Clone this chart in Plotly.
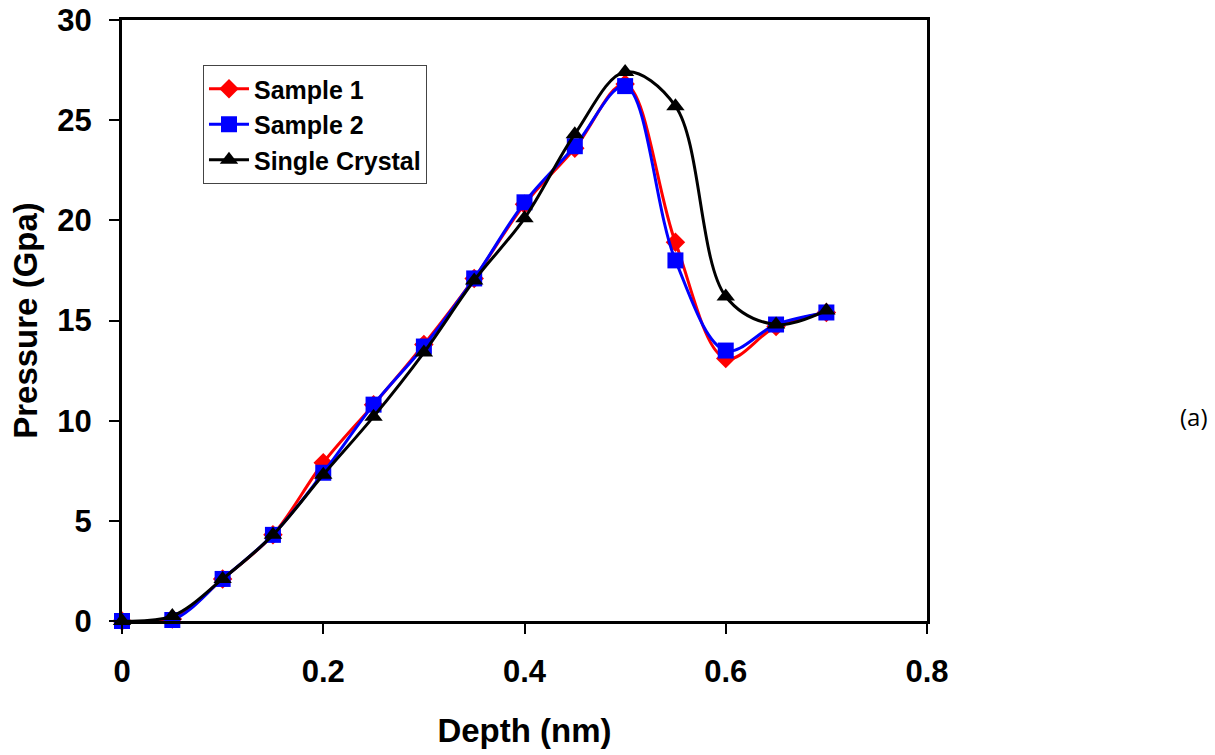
import plotly.graph_objects as go

depth = [0, 0.05, 0.1, 0.15, 0.2, 0.25, 0.3, 0.35, 0.4, 0.45, 0.5, 0.55, 0.6, 0.65, 0.7]
sample1 = [0, 0.1, 2.1, 4.3, 7.9, 10.8, 13.8, 17.1, 20.8, 23.6, 26.8, 18.9, 13.1, 14.7, 15.4]
sample2 = [0, 0.05, 2.1, 4.3, 7.4, 10.8, 13.7, 17.1, 20.9, 23.7, 26.7, 18.0, 13.5, 14.8, 15.4]
single = [0, 0.25, 2.1, 4.3, 7.3, 10.2, 13.4, 17.0, 20.1, 24.3, 27.4, 25.7, 16.2, 14.8, 15.5]

FONT = "Liberation Sans, Arial, sans-serif"

fig = go.Figure()
fig.add_trace(go.Scatter(x=depth, y=sample1, name="Sample 1", mode="lines+markers",
                         line=dict(color="#ff0000", width=3, shape="spline", smoothing=1.0),
                         marker=dict(symbol="diamond", size=15, color="#ff0000"),
                         cliponaxis=False))
fig.add_trace(go.Scatter(x=depth, y=sample2, name="Sample 2", mode="lines+markers",
                         line=dict(color="#0000ff", width=3, shape="spline", smoothing=1.0),
                         marker=dict(symbol="square", size=16, color="#0000ff"),
                         cliponaxis=False))
fig.add_trace(go.Scatter(x=depth, y=single, name="Single Crystal", mode="lines+markers",
                         line=dict(color="#000000", width=3, shape="spline", smoothing=1.0),
                         marker=dict(symbol="triangle-up", size=16, color="#000000"),
                         cliponaxis=False))

fig.update_layout(
    width=1215, height=755,
    margin=dict(l=122, r=288, t=20, b=134),
    paper_bgcolor="white", plot_bgcolor="white",
    font=dict(family=FONT, color="black"),
    showlegend=True,
    legend=dict(x=0.1006, y=(621 - 65) / 601, xanchor="left", yanchor="top",
                bordercolor="#444", borderwidth=1, bgcolor="white",
                font=dict(family=FONT, size=25, weight="bold", color="black"),
                itemwidth=40, tracegroupgap=0),
    xaxis=dict(range=[0, 0.8], tickvals=[0, 0.2, 0.4, 0.6, 0.8],
               ticktext=["0", "0.2", "0.4", "0.6", "0.8"], automargin=False,
               showgrid=False, zeroline=False, showline=True, linecolor="black",
               linewidth=3, mirror=True, ticks="outside", ticklen=10, tickwidth=2,
               tickcolor="black", ticklabelstandoff=11,
               tickfont=dict(family=FONT, size=31, weight="bold"),
               title=dict(text="Depth (nm)", font=dict(family=FONT, size=33, weight="bold"),
                          standoff=31)),
    yaxis=dict(range=[0, 30], tickvals=[0, 5, 10, 15, 20, 25, 30], automargin=False,
               showgrid=False, zeroline=False, showline=True, linecolor="black",
               linewidth=3, mirror=True, ticks="outside", ticklen=10, tickwidth=2,
               tickcolor="black", ticklabelstandoff=11,
               tickfont=dict(family=FONT, size=31, weight="bold"),
               title=dict(text="Pressure (Gpa)", font=dict(family=FONT, size=33, weight="bold"),
                          standoff=10)),
    annotations=[dict(text="(a)", x=(1194 - 122) / 805, y=(621 - 416) / 601,
                      xref="paper", yref="paper", xanchor="center", yanchor="middle",
                      showarrow=False, font=dict(family="Open Sans, sans-serif", size=24))],
)

fig.write_html("out.html")
